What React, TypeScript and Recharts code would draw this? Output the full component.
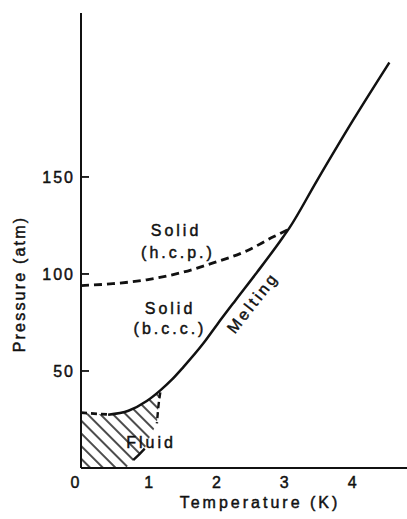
import React from "react";
import { ComposedChart, Line, Area, XAxis, YAxis } from "recharts";

// Melting curve (solid)
const meltT = [0.4, 0.7, 0.97, 1.17, 1.34, 1.51, 1.8, 2.01, 2.27, 2.6, 2.94, 3.08, 3.48, 4.01, 4.55];
const meltP = [27.5, 29.5, 34.5, 40, 45.5, 52, 64, 74, 86, 101, 117, 124, 148, 179, 209];

// b.c.c. / h.c.p. boundary (dashed)
const hcpT = [0, 0.47, 0.97, 1.46, 1.95, 2.45, 2.83, 3.06];
const hcpP = [94, 95, 97, 100.5, 105.7, 112, 119, 123];

// Fluid region boundaries (dashed)
const fluidTopT = [0, 0.42];
const fluidTopP = [28.5, 27.5];
const fluidRightT = [1.17, 1.14, 1.12];
const fluidRightP = [39, 31, 23];
const fluidLowT = [0.94, 0.86, 0.77];
const fluidLowP = [10, 7, 4];

// Fluid (hatched) region outline
const fluidT = [0, 0.4, 0.7, 0.97, 1.17, 1.14, 1.12, 1.0, 0.94, 0.77, 0.66];
const fluidP = [28.5, 27.5, 29.5, 34.5, 39, 31, 23, 15, 10, 4, 0];

const xTicks = [0, 1, 2, 3, 4];
const yTicks = [50, 100, 150];

const zip = (t: number[], p: number[]) => t.map((v, i) => ({ t: v, p: p[i] }));

const FONT = "'Liberation Sans', Arial, Helvetica, sans-serif";
const INK = "#111";
const textInk = { fill: INK, stroke: INK, strokeWidth: 0.45 };

const XTick = (props: any) => {
  const { x, y, payload } = props;
  const dx = payload.value === 0 ? -6 : 0;
  return (
    <text x={x + dx} y={y + 20} textAnchor="middle" fontSize={16} fontFamily={FONT} {...textInk}>
      {payload.value}
    </text>
  );
};

const YTick = (props: any) => {
  const { x, y, payload } = props;
  return (
    <g>
      <line x1={x} y1={y} x2={x + 8} y2={y} stroke={INK} strokeWidth={1.8} />
      <text x={x - 6} y={y + 6} textAnchor="end" fontSize={16} fontFamily={FONT} {...textInk} style={{ letterSpacing: 2 }}>
        {payload.value}
      </text>
    </g>
  );
};

const textStyle = { letterSpacing: 3 };

export default function App() {
  return (
    <div style={{ position: "absolute", left: 0, top: 0, background: "#fff" }}>
      <ComposedChart width={407} height={519} margin={{ top: 13, right: 0, bottom: 0, left: 0 }}>
        <defs>
          <pattern id="hatch" width="9" height="9" patternUnits="userSpaceOnUse" patternTransform="rotate(-45)">
            <line x1="3" y1="0" x2="3" y2="9" stroke={INK} strokeWidth={1.5} />
          </pattern>
        </defs>
        <XAxis
          type="number"
          dataKey="t"
          domain={[0, 4.81]}
          ticks={xTicks}
          allowDataOverflow
          height={51}
          tickSize={0}
          tickMargin={0}
          tickLine={false}
          axisLine={{ stroke: INK, strokeWidth: 2 }}
          tick={<XTick />}
          label={{
            content: () => (
              <text x={260} y={508} textAnchor="middle" fontSize={16} fontFamily={FONT} {...textInk} style={textStyle}>
                Temperature (K)
              </text>
            ),
          }}
        />
        <YAxis
          type="number"
          domain={[0, 234.5]}
          ticks={yTicks}
          allowDataOverflow
          width={81}
          tickSize={0}
          tickMargin={0}
          tickLine={false}
          axisLine={{ stroke: INK, strokeWidth: 2 }}
          tick={<YTick />}
          label={{
            content: () => (
              <text
                transform="translate(25,284) rotate(-90)"
                textAnchor="middle"
                fontSize={16}
                fontFamily={FONT}
                {...textInk}
                style={{ letterSpacing: 2.2 }}
              >
                Pressure (atm)
              </text>
            ),
          }}
        />
        <Area
          data={zip(fluidT, fluidP)}
          dataKey="p"
          type="linear"
          stroke="none"
          fill="url(#hatch)"
          fillOpacity={1}
          baseValue={0}
          isAnimationActive={false}
          dot={false}
          activeDot={false}
        />
        <Line data={zip(meltT, meltP)} dataKey="p" type="monotone" stroke={INK} strokeWidth={2.5} dot={false} activeDot={false} isAnimationActive={false} />
        <Line data={zip(hcpT, hcpP)} dataKey="p" type="monotone" stroke={INK} strokeWidth={2.8} strokeDasharray="8 5" dot={false} activeDot={false} isAnimationActive={false} />
        <Line data={zip(fluidTopT, fluidTopP)} dataKey="p" type="linear" stroke={INK} strokeWidth={2.8} strokeDasharray="6 4" dot={false} activeDot={false} isAnimationActive={false} />
        <Line data={zip(fluidRightT, fluidRightP)} dataKey="p" type="monotone" stroke={INK} strokeWidth={2.4} strokeDasharray="6 4" dot={false} activeDot={false} isAnimationActive={false} />
        <Line data={zip(fluidLowT, fluidLowP)} dataKey="p" type="linear" stroke={INK} strokeWidth={2.4} dot={false} activeDot={false} isAnimationActive={false} />
        <g fontFamily={FONT} fontSize={16} {...textInk} style={textStyle}>
          <text x={176} y={236} textAnchor="middle">Solid</text>
          <text x={178} y={258} textAnchor="middle">(h.c.p.)</text>
          <text x={170} y={314} textAnchor="middle">Solid</text>
          <text x={170} y={334} textAnchor="middle">(b.c.c.)</text>
          <text transform="translate(257,306) rotate(-52)" textAnchor="middle">Melting</text>
          <text x={151} y={448} textAnchor="middle">Fluid</text>
        </g>
      </ComposedChart>
    </div>
  );
}
